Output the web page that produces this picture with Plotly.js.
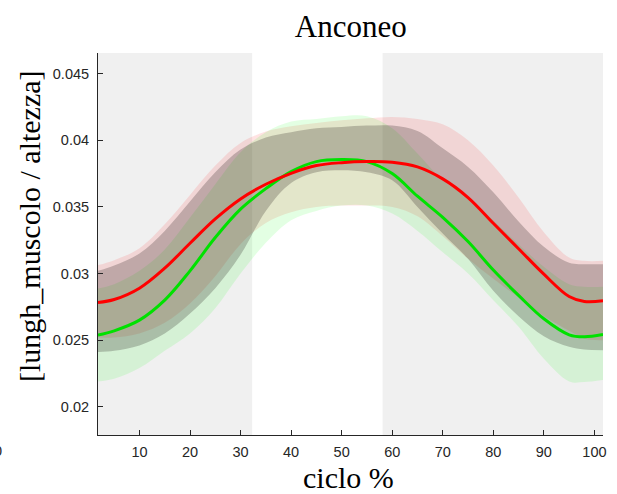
<!DOCTYPE html>
<html>
<head>
<meta charset="utf-8">
<script src="https://cdn.plot.ly/plotly-3.0.1.min.js"></script>
<style>
  html, body { margin: 0; padding: 0; background: #ffffff; }
  #chart { width: 617px; height: 494px; }
</style>
</head>
<body>
<div id="chart"></div>
<script>
// ciclo % sample positions
const xs = [1.8, 5, 10, 15, 20, 25, 30, 35, 40, 45, 50, 55, 60, 65, 70, 75, 80, 85, 90, 95, 98, 101.7];

// red series: mean and band edges
const redMean = [0.02783, 0.02805, 0.0289, 0.0304, 0.03227, 0.0341, 0.0356, 0.0367, 0.03752, 0.0381, 0.03832, 0.0384, 0.03835, 0.0380, 0.0371, 0.0357, 0.03377, 0.03186, 0.02995, 0.02827, 0.0279, 0.02795];
const redHi   = [0.03063, 0.0310, 0.0319, 0.0337, 0.0359, 0.0381, 0.0398, 0.04065, 0.04105, 0.0413, 0.0415, 0.04165, 0.04175, 0.0416, 0.0412, 0.0400, 0.0381, 0.0357, 0.0331, 0.0312, 0.03095, 0.03095];
const redLo   = [0.0252, 0.0252, 0.0255, 0.0263, 0.02775, 0.0298, 0.0322, 0.0338, 0.0346, 0.0350, 0.0351, 0.0351, 0.0350, 0.0343, 0.0328, 0.0311, 0.0296, 0.0282, 0.0268, 0.0257, 0.0251, 0.0250];

// green series: mean and band edges
const greenMean = [0.02538, 0.0257, 0.0265, 0.0280, 0.0302, 0.0327, 0.03483, 0.03637, 0.03765, 0.0384, 0.03855, 0.0384, 0.0375, 0.0358, 0.03422, 0.0324, 0.03026, 0.02836, 0.0266, 0.0254, 0.02525, 0.02542];
const greenHi   = [0.02888, 0.0292, 0.0302, 0.0318, 0.0342, 0.0367, 0.0391, 0.0406, 0.0414, 0.0416, 0.0418, 0.0418, 0.0409, 0.0390, 0.0370, 0.0357, 0.0340, 0.0322, 0.0305, 0.0292, 0.0290, 0.0290];
const greenLo   = [0.0219, 0.0221, 0.0229, 0.0242, 0.0255, 0.0274, 0.0300, 0.0323, 0.0340, 0.0347, 0.0351, 0.0351, 0.0345, 0.0332, 0.0316, 0.0300, 0.0280, 0.0260, 0.0236, 0.0219, 0.02185, 0.0220];

// dark (grey) band edges
const darkHi = [0.0302, 0.0306, 0.0315, 0.0332, 0.0354, 0.0376, 0.0393, 0.0402, 0.0406, 0.0409, 0.0410, 0.0411, 0.0411, 0.0407, 0.0394, 0.0380, 0.0361, 0.0339, 0.0320, 0.0308, 0.0307, 0.0307];
const darkLo = [0.0241, 0.0242, 0.0246, 0.0255, 0.0270, 0.0289, 0.0314, 0.0347, 0.0368, 0.0376, 0.03775, 0.0376, 0.0370, 0.0350, 0.0330, 0.0311, 0.0287, 0.0268, 0.0253, 0.0245, 0.0243, 0.02425];

// shaded phases (ciclo %)
const phaseStart = [1.8, 58.1];
const phaseEnd   = [32.3, 101.7];

// axis ticks
const xTicks = [10, 20, 30, 40, 50, 60, 70, 80, 90, 100];
const yTicks = [0.02, 0.025, 0.03, 0.035, 0.04, 0.045];
const yTickText = ['0.02', '0.025', '0.03', '0.035', '0.04', '0.045'];

function band(hi, lo, color) {
  return [
    { x: xs, y: hi, type: 'scatter', mode: 'lines', line: { width: 0, shape: 'spline', smoothing: 1 }, hoverinfo: 'skip', showlegend: false },
    { x: xs, y: lo, type: 'scatter', mode: 'lines', line: { width: 0, shape: 'spline', smoothing: 1 }, fill: 'tonexty', fillcolor: color, hoverinfo: 'skip', showlegend: false }
  ];
}

const traces = [].concat(
  band(redHi, redLo, 'rgba(255,0,0,0.11)'),
  band(greenHi, greenLo, 'rgba(0,255,0,0.11)'),
  band(darkHi, darkLo, 'rgba(20,10,10,0.22)'),
  [
    { x: xs, y: greenMean, type: 'scatter', mode: 'lines', line: { color: 'rgb(0,225,0)', width: 3, shape: 'spline', smoothing: 1 }, showlegend: false },
    { x: xs, y: redMean, type: 'scatter', mode: 'lines', line: { color: 'rgb(255,0,0)', width: 3, shape: 'spline', smoothing: 1 }, showlegend: false }
  ]
);

const shapes = phaseStart.map((s, i) => ({
  type: 'rect', xref: 'x', yref: 'paper', x0: s, x1: phaseEnd[i], y0: 0, y1: 1,
  fillcolor: '#f0f0f0', line: { width: 0 }, layer: 'below'
}));

const serif = 'Liberation Serif, Times New Roman, serif';
const sans = 'Liberation Sans, Arial, sans-serif';

const layout = {
  width: 617, height: 494,
  margin: { l: 98, r: 14, t: 53, b: 59 },
  paper_bgcolor: '#ffffff', plot_bgcolor: '#ffffff',
  showlegend: false,
  title: { text: 'Anconeo', font: { family: serif, size: 31, color: '#000000' }, x: 0.5686, xanchor: 'center', xref: 'container', yref: 'container', y: 0.948, yanchor: 'middle' },
  xaxis: {
    range: [1.8, 101.7], tickvals: xTicks, ticktext: xTicks.map(String),
    showline: true, linecolor: '#262626', linewidth: 1, mirror: false,
    ticks: 'inside', ticklen: 5, tickcolor: '#262626', tickwidth: 1,
    showgrid: false, zeroline: false,
    tickfont: { family: sans, size: 14.5, color: '#262626' },
    ticklabelstandoff: 4
  },
  yaxis: {
    range: [0.01788, 0.04655], tickvals: yTicks, ticktext: yTickText,
    showline: true, linecolor: '#262626', linewidth: 1, mirror: false,
    ticks: 'inside', ticklen: 5, tickcolor: '#262626', tickwidth: 1,
    showgrid: false, zeroline: false,
    tickfont: { family: sans, size: 14.5, color: '#262626' },
    ticklabelstandoff: 5
  },
  shapes: shapes,
  annotations: [
    { text: 'ciclo %', xref: 'paper', yref: 'paper', x: (348 - 98) / 505, y: (435 - 478) / 382, xanchor: 'center', yanchor: 'middle', showarrow: false, font: { family: serif, size: 30, color: '#000000' } },
    { text: '[lungh_muscolo / altezza]', xref: 'paper', yref: 'paper', x: (29 - 98) / 505, y: (435 - 226) / 382, xanchor: 'center', yanchor: 'middle', textangle: -90, showarrow: false, font: { family: serif, size: 30, color: '#000000' } },
    { text: '0', xref: 'paper', yref: 'paper', x: (-2 - 98) / 505, y: (435 - 451) / 382, xanchor: 'center', yanchor: 'middle', showarrow: false, font: { family: sans, size: 14.5, color: '#262626' } }
  ]
};

Plotly.newPlot('chart', traces, layout, { displayModeBar: false, staticPlot: true });
</script>
</body>
</html>
